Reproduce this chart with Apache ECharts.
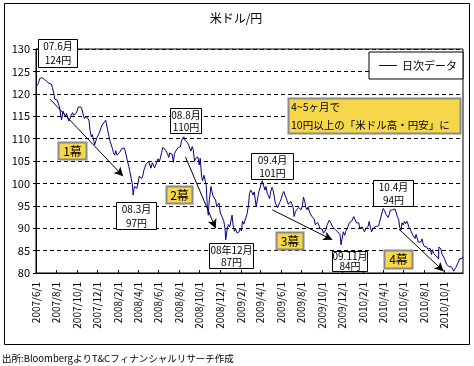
<!DOCTYPE html>
<html><head><meta charset="utf-8">
<script src="https://cdn.jsdelivr.net/npm/echarts@6/dist/echarts.min.js"></script>
<style>html,body{margin:0;padding:0;background:#fff}#c{width:474px;height:366px}</style>
</head><body><div id="c"></div><script>
// ---- data ----
const dates = [
'2007-06-01','2007-06-05','2007-06-08','2007-06-12','2007-06-15','2007-06-19','2007-06-22','2007-06-26','2007-06-29','2007-07-03',
'2007-07-06','2007-07-10','2007-07-13','2007-07-17','2007-07-20','2007-07-24','2007-07-27','2007-07-31','2007-08-03','2007-08-07',
'2007-08-10','2007-08-14','2007-08-16','2007-08-17','2007-08-21','2007-08-24','2007-08-28','2007-08-31','2007-09-04','2007-09-07',
'2007-09-11','2007-09-14','2007-09-18','2007-09-21','2007-09-25','2007-09-28','2007-10-02','2007-10-05','2007-10-09','2007-10-12',
'2007-10-16','2007-10-19','2007-10-23','2007-10-26','2007-10-30','2007-11-02','2007-11-06','2007-11-09','2007-11-13','2007-11-16',
'2007-11-20','2007-11-23','2007-11-27','2007-11-30','2007-12-04','2007-12-07','2007-12-11','2007-12-14','2007-12-18','2007-12-21',
'2007-12-26','2007-12-28','2008-01-04','2008-01-08','2008-01-11','2008-01-15','2008-01-18','2008-01-22','2008-01-25','2008-01-29',
'2008-02-01','2008-02-05','2008-02-08','2008-02-12','2008-02-15','2008-02-19','2008-02-22','2008-02-26','2008-02-29','2008-03-04',
'2008-03-07','2008-03-11','2008-03-14','2008-03-17','2008-03-19','2008-03-21','2008-03-25','2008-03-28','2008-04-01','2008-04-04',
'2008-04-08','2008-04-11','2008-04-15','2008-04-18','2008-04-22','2008-04-25','2008-04-29','2008-05-02','2008-05-06','2008-05-09',
'2008-05-13','2008-05-16','2008-05-20','2008-05-23','2008-05-27','2008-05-30','2008-06-03','2008-06-06','2008-06-10','2008-06-13',
'2008-06-17','2008-06-20','2008-06-24','2008-06-27','2008-07-01','2008-07-04','2008-07-08','2008-07-11','2008-07-15','2008-07-18',
'2008-07-22','2008-07-25','2008-07-29','2008-08-01','2008-08-05','2008-08-08','2008-08-12','2008-08-15','2008-08-19','2008-08-22',
'2008-08-26','2008-08-29','2008-09-02','2008-09-05','2008-09-09','2008-09-12','2008-09-16','2008-09-19','2008-09-23','2008-09-26',
'2008-09-30','2008-10-03','2008-10-07','2008-10-10','2008-10-14','2008-10-17','2008-10-21','2008-10-24','2008-10-27','2008-10-30',
'2008-11-04','2008-11-07','2008-11-11','2008-11-14','2008-11-18','2008-11-21','2008-11-25','2008-11-28','2008-12-02','2008-12-05',
'2008-12-09','2008-12-12','2008-12-16','2008-12-18','2008-12-22','2008-12-26','2008-12-30','2009-01-06','2009-01-09','2009-01-13',
'2009-01-16','2009-01-21','2009-01-23','2009-01-27','2009-01-30','2009-02-03','2009-02-06','2009-02-10','2009-02-13','2009-02-17',
'2009-02-20','2009-02-24','2009-02-27','2009-03-03','2009-03-06','2009-03-10','2009-03-13','2009-03-17','2009-03-19','2009-03-24',
'2009-03-27','2009-03-31','2009-04-03','2009-04-06','2009-04-09','2009-04-14','2009-04-17','2009-04-21','2009-04-24','2009-04-28',
'2009-05-01','2009-05-05','2009-05-08','2009-05-12','2009-05-15','2009-05-19','2009-05-22','2009-05-26','2009-05-29','2009-06-02',
'2009-06-05','2009-06-09','2009-06-12','2009-06-16','2009-06-19','2009-06-23','2009-06-26','2009-06-30','2009-07-03','2009-07-07',
'2009-07-10','2009-07-14','2009-07-17','2009-07-21','2009-07-24','2009-07-28','2009-07-31','2009-08-04','2009-08-07','2009-08-11',
'2009-08-14','2009-08-18','2009-08-21','2009-08-25','2009-08-28','2009-09-01','2009-09-04','2009-09-08','2009-09-11','2009-09-15',
'2009-09-18','2009-09-22','2009-09-25','2009-09-29','2009-10-02','2009-10-06','2009-10-09','2009-10-13','2009-10-16','2009-10-20',
'2009-10-23','2009-10-27','2009-10-30','2009-11-03','2009-11-06','2009-11-10','2009-11-13','2009-11-17','2009-11-20','2009-11-24',
'2009-11-27','2009-12-01','2009-12-04','2009-12-08','2009-12-11','2009-12-15','2009-12-18','2009-12-22','2009-12-25','2009-12-29',
'2010-01-04','2010-01-08','2010-01-12','2010-01-15','2010-01-19','2010-01-22','2010-01-26','2010-01-29','2010-02-02','2010-02-05',
'2010-02-09','2010-02-12','2010-02-16','2010-02-19','2010-02-23','2010-02-26','2010-03-02','2010-03-05','2010-03-09','2010-03-12',
'2010-03-16','2010-03-19','2010-03-23','2010-03-26','2010-03-30','2010-04-02','2010-04-06','2010-04-09','2010-04-13','2010-04-16',
'2010-04-20','2010-04-23','2010-04-27','2010-04-30','2010-05-04','2010-05-07','2010-05-11','2010-05-14','2010-05-18','2010-05-21',
'2010-05-25','2010-05-28','2010-06-01','2010-06-04','2010-06-08','2010-06-11','2010-06-15','2010-06-18','2010-06-22','2010-06-25',
'2010-06-29','2010-07-02','2010-07-06','2010-07-09','2010-07-13','2010-07-16','2010-07-20','2010-07-23','2010-07-27','2010-07-30',
'2010-08-03','2010-08-06','2010-08-10','2010-08-13','2010-08-17','2010-08-20','2010-08-24','2010-08-27','2010-08-31','2010-09-03',
'2010-09-07','2010-09-10','2010-09-14','2010-09-15','2010-09-17','2010-09-21','2010-09-24','2010-09-28','2010-10-01','2010-10-05',
'2010-10-08','2010-10-12','2010-10-15','2010-10-19','2010-10-22','2010-10-26','2010-10-29','2010-11-02','2010-11-05','2010-11-09',
'2010-11-12','2010-11-16','2010-11-19','2010-11-23','2010-11-26'
];
const usdjpy = [
121.6,121.2,122.3,123.4,123.0,123.6,124.0,123.2,123.5,122.8,
123.2,122.3,122.0,122.2,121.4,120.2,118.8,119.2,118.6,118.9,
117.1,116.7,114.2,114.6,116.1,115.9,114.8,115.6,115.9,113.9,
114.6,115.2,115.8,115.2,115.0,115.6,116.2,117.0,117.4,117.1,
116.6,115.6,114.5,114.2,114.9,114.7,114.1,111.9,110.4,110.9,
109.6,108.6,108.2,110.3,110.8,111.3,111.4,112.9,113.1,113.6,
114.1,113.3,110.8,109.4,109.2,107.8,106.9,106.3,107.3,106.3,
106.7,106.9,107.2,107.8,108.0,107.9,107.3,107.6,104.9,103.8,
102.6,102.9,100.0,97.4,98.6,99.3,99.6,98.9,100.2,101.6,
101.9,101.1,101.8,103.0,103.2,104.4,104.0,104.9,104.6,103.4,
104.6,104.1,103.5,103.6,104.9,105.5,104.8,104.9,106.9,108.0,
108.1,107.6,107.9,106.7,105.8,106.8,107.1,106.5,104.7,106.6,
107.2,107.5,108.0,107.6,108.2,109.5,109.9,110.4,109.6,109.8,
109.1,108.6,108.2,107.2,108.2,107.6,104.9,105.6,105.6,105.9,
104.1,105.6,101.6,100.6,101.8,101.7,99.6,94.8,92.9,96.3,
99.3,98.2,97.0,96.8,96.3,94.8,95.2,95.6,93.4,92.9,
92.8,91.7,89.9,87.4,89.6,90.8,90.3,92.9,90.7,89.3,
89.9,88.9,89.1,89.2,89.9,89.4,91.6,90.9,91.6,92.5,
93.3,95.2,97.8,98.5,98.9,97.4,98.1,98.5,94.8,97.0,
98.1,99.2,99.6,100.6,100.2,98.5,99.3,97.8,97.3,96.6,
98.1,99.1,98.6,97.0,95.6,95.2,94.6,95.4,95.9,96.6,
97.5,98.2,98.1,96.8,96.4,95.3,95.6,96.0,95.9,94.8,
92.6,93.6,94.1,93.9,94.6,94.4,94.1,95.1,96.9,96.0,
94.6,94.1,94.8,93.6,93.2,92.6,92.9,92.1,90.8,91.1,
91.3,90.7,89.9,89.6,89.8,88.9,89.2,89.7,90.6,90.5,
91.8,91.3,90.7,90.2,90.0,89.7,89.7,89.2,88.8,88.6,
86.3,86.4,89.2,88.4,89.3,89.7,90.4,91.2,91.3,91.6,
92.6,92.8,91.2,90.8,91.2,90.0,90.0,90.3,90.6,89.2,
89.9,90.0,90.4,91.5,90.1,89.2,89.1,90.1,89.9,90.4,
90.4,90.5,90.8,92.5,92.6,94.4,93.9,93.3,92.9,92.4,
93.0,94.0,93.9,94.1,93.8,94.3,93.4,92.6,92.0,90.2,
89.6,91.2,90.7,91.5,91.0,91.6,90.9,90.1,90.0,89.2,
88.5,88.3,87.7,88.6,88.5,86.9,86.9,86.9,87.6,86.5,
85.9,85.6,85.8,85.3,85.4,85.5,84.1,85.2,84.3,84.2,
83.8,83.9,83.1,85.8,85.8,85.4,84.3,84.0,83.3,83.2,
82.0,81.8,81.4,81.5,81.4,80.9,80.4,80.8,81.3,81.0,
82.4,83.2,83.5,83.2,83.6
];
const xTickLabels = ['2007/6/1','2007/8/1','2007/10/1','2007/12/1','2008/2/1','2008/4/1','2008/6/1','2008/8/1','2008/10/1','2008/12/1',
  '2009/2/1','2009/4/1','2009/6/1','2009/8/1','2009/10/1','2009/12/1','2010/2/1','2010/4/1','2010/6/1','2010/8/1','2010/10/1'];
const seriesName = '日次データ';
const titleText = '米ドル/円';
const sourceText = '出所:BloombergよりT&Cフィナンシャルリサーチ作成';
const calloutText = ['4~5ヶ月で', '10円以上の「米ドル高・円安」に'];
const peakLabels = [['07.6月','124円'],['08.3月','97円'],['08.8月','110円'],['08年12月','87円'],['09.4月','101円'],['09.11月','84円'],['10.4月','94円']];
const actLabels = ['1幕','2幕','3幕','4幕'];
// arrows: [startDate, startValue, endDate, endValue]
const arrows = [
  ['2007-07-13',118.8,'2008-02-16',101.6],
  ['2008-08-20',105.9,'2008-11-18',90.0],
  ['2009-05-06',94.1,'2009-11-01',87.4],
  ['2010-05-19',89.8,'2010-09-29',80.4]
];

// ---- helpers ----
function ts(s){ const p = s.split(/[-\/]/).map(Number); return new Date(p[0], p[1]-1, p[2]).getTime(); }
const tickValues = xTickLabels.map(ts);
const labelMap = {}; tickValues.forEach((v,i)=>labelMap[v]=xTickLabels[i]);
const seriesData = dates.map((d,i)=>[ts(d), usdjpy[i]]);
const FONT = "'MS PGothic','Noto Sans CJK JP',sans-serif";
const YEL = '#F6D64A', YBORDER = '#8a8a8a';
const ZTOP = 100;

function box(x, y, w, h, lines, opt){
  opt = opt || {};
  const fs = opt.fontSize || 10;
  const lh = opt.lineHeight || (h/ lines.length);
  const els = [{
    type:'rect', z:ZTOP, shape:{x:x+0.5, y:y+0.5, width:w, height:h},
    style:{fill: opt.fill || '#ffffff', stroke: opt.stroke || '#000', lineWidth: opt.lineWidth || 1}
  }];
  lines.forEach((t,i)=>{
    els.push({type:'text', z:ZTOP+1, style:{
      text:t, x: opt.align==='left' ? x+3 : x+w/2+0.5,
      y: y + lh*(i+0.5) + 0.5,
      align: opt.align || 'center', verticalAlign:'middle',
      font: fs+'px '+FONT, fill:'#000'}});
  });
  return els;
}

const graphics = [].concat(
  [{type:'rect', z:ZTOP, shape:{x:4.5,y:3.5,width:465,height:341}, style:{fill:'none',stroke:'#000',lineWidth:1}},
   {type:'text', z:ZTOP, style:{text:titleText, x:236, y:18, align:'center', verticalAlign:'middle', font:'12px '+FONT, fill:'#000'}},
   {type:'text', z:ZTOP, style:{text:sourceText, x:2, y:358, align:'left', verticalAlign:'middle', font:'9.5px '+FONT, fill:'#000'}}],
  box(288, 98, 172, 35, calloutText, {fill:YEL, stroke:YBORDER, lineWidth:2, align:'left', fontSize:10.5}),
  box(38, 39, 39, 28, peakLabels[0]),
  box(116, 202, 40, 27, peakLabels[1]),
  box(170, 108, 31, 25, peakLabels[2]),
  box(209, 243, 44, 25, peakLabels[3]),
  box(251, 153, 42, 26, peakLabels[4]),
  box(332, 251, 35, 20, peakLabels[5]),
  box(373, 180, 40, 26, peakLabels[6]),
  box(58, 142, 28, 17, [actLabels[0]], {fill:YEL, stroke:YBORDER, lineWidth:2, fontSize:12}),
  box(166, 186, 26, 17, [actLabels[1]], {fill:YEL, stroke:YBORDER, lineWidth:2, fontSize:12}),
  box(276, 232, 27, 17, [actLabels[2]], {fill:YEL, stroke:YBORDER, lineWidth:2, fontSize:12}),
  box(384, 250, 28, 18, [actLabels[3]], {fill:YEL, stroke:YBORDER, lineWidth:2, fontSize:12})
);

const chart = echarts.init(document.getElementById('c'), null, {renderer:'canvas'});
chart.setOption({
  animation:false,
  backgroundColor:'#fff',
  grid:{left:36, right:11, top:49, bottom:93, show:true, borderColor:'#000', borderWidth:1, backgroundColor:'transparent'},
  legend:{
    left:369, top:52, padding:[8,6,8,10], itemWidth:18, itemHeight:8, itemGap:4,
    backgroundColor:'#fff', borderColor:'#000', borderWidth:1, z:ZTOP,
    textStyle:{fontFamily:FONT, fontSize:11, color:'#000'},
    data:[{name:seriesName, icon:'path://M0,4L18,4L18,5L0,5Z'}]
  },
  xAxis:{
    type:'value', min:ts(dates[0]), max:ts(dates[dates.length-1]),
    axisLine:{lineStyle:{color:'#000', width:1}},
    axisTick:{show:true, inside:true, length:3, customValues:tickValues, lineStyle:{color:'#000'}},
    axisLabel:{customValues:tickValues, rotate:90, margin:9, fontFamily:FONT, fontSize:10, color:'#000',
      formatter:(v)=>labelMap[v] || ''},
    splitLine:{show:false}
  },
  yAxis:{
    type:'value', min:80, max:130, interval:5,
    axisLine:{show:true, lineStyle:{color:'#000', width:1}},
    axisTick:{show:true, length:3, lineStyle:{color:'#000'}},
    axisLabel:{margin:6, fontFamily:FONT, fontSize:11, color:'#000'},
    splitLine:{show:true, lineStyle:{color:'#000', type:[4,3], width:1}}
  },
  series:[{
    name:seriesName, type:'line', data:seriesData, showSymbol:false, symbol:'none',
    lineStyle:{color:'#000080', width:1}, itemStyle:{color:'#000080'}, z:5,
    markLine:{
      silent:true, symbol:['none','arrow'], symbolSize:[7,9], animation:false,
      lineStyle:{color:'#000', width:1, type:'solid'}, label:{show:false},
      data: arrows.map(a=>[{coord:[ts(a[0]),a[1]]},{coord:[ts(a[2]),a[3]]}])
    }
  }],
  graphic:graphics
});
</script></body></html>
